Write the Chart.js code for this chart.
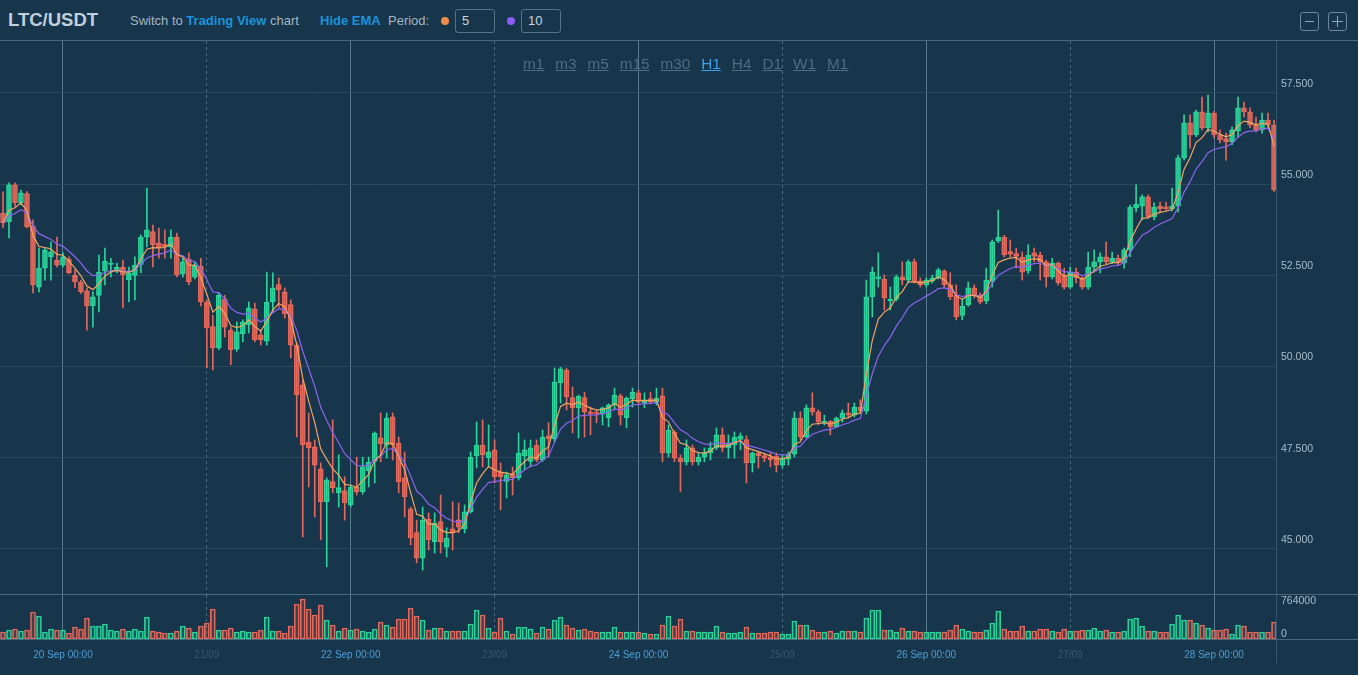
<!DOCTYPE html>
<html>
<head>
<meta charset="utf-8">
<script src="https://cdn.jsdelivr.net/npm/chart.js@4.4.1/dist/chart.umd.min.js"></script>
<style>
  body { margin: 0; background: #17354b; font-family: "Liberation Sans", Arial, sans-serif; }
  #wrap { position: relative; width: 1358px; height: 675px; overflow: hidden; background: #17354b; }
  .abs { position: absolute; }
  .hl { position: absolute; left: 0; width: 1358px; height: 1px; background: #46677c; }
  #title { left: 8px; top: 9px; font-size: 18.5px; font-weight: bold; color: #bfd0dc; }
  .txt { font-size: 13px; color: #a3b5c3; top: 13px; }
  .lnk { color: #1b93dc; font-weight: bold; }
  .dot { width: 8px; height: 8px; border-radius: 50%; top: 17px; }
  .box { top: 9px; width: 38px; height: 22px; border: 1px solid #56758a; border-radius: 3px;
         font-size: 13px; color: #c9d5de; line-height: 22px; padding-left: 6px; box-sizing: content-box; }
  .zbtn { top: 12px; width: 17px; height: 17px; border: 1px solid #6c8799; border-radius: 3px; }
  .zbtn i { position: absolute; background: #8fa6b6; }
  #tf { left: 523px; top: 55px; font-size: 15.3px; color: #4d6d84; white-space: nowrap; }
  #tf span { text-decoration: underline; margin-right: 11px; }
  #tf span.on { color: #3ba2e6; }
</style>
</head>
<body>
<div id="wrap">
  <div id="title" class="abs">LTC/USDT</div>
  <div class="abs txt" style="left:130px">Switch to <span class="lnk">Trading View</span> chart</div>
  <div class="abs txt lnk" style="left:320px">Hide EMA</div>
  <div class="abs txt" style="left:388px">Period:</div>
  <div class="abs dot" style="left:441px;background:#f08c4c"></div>
  <div class="abs box" style="left:455px;width:32px">5</div>
  <div class="abs dot" style="left:507px;background:#8b5cf6"></div>
  <div class="abs box" style="left:521px;width:32px">10</div>
  <div class="abs zbtn" style="left:1300px"><i style="left:4px;top:8px;width:9px;height:1px"></i></div>
  <div class="abs zbtn" style="left:1328px"><i style="left:3px;top:8px;width:11px;height:1px"></i><i style="left:8px;top:3px;width:1px;height:11px"></i></div>
  <div class="hl" style="top:40px"></div>

  <canvas id="price" class="abs" width="1358" height="553" style="left:0;top:41px"></canvas>
  <div class="hl" style="top:594px"></div>
  <canvas id="volume" class="abs" width="1358" height="80" style="left:0;top:595px"></canvas>
  <div class="hl" style="top:639px"></div>
  <div class="abs" style="left:1276px;top:41px;width:1px;height:622px;background:#36566b"></div>

  <div id="tf" class="abs"><span>m1</span><span>m3</span><span>m5</span><span>m15</span><span>m30</span><span class="on">H1</span><span>H4</span><span>D1</span><span>W1</span><span>M1</span></div>
</div>

<script>
// hourly candles, 19 Sep 14:00 .. 28 Sep 10:00
const firstHourUTC = Date.UTC(2021, 8, 19, 14);
const firstMidnight = 10; // index of 20 Sep 00:00
const dayLabels = ['20 Sep 00:00', '21/09', '22 Sep 00:00', '23/09', '24 Sep 00:00',
                   '25/09', '26 Sep 00:00', '27/09', '28 Sep 00:00'];
const priceTicks = [45, 47.5, 50, 52.5, 55, 57.5];
const volumeTicks = [0, 764000];

const opens = [
  54.21, 53.97, 54.98, 54.49, 54.74, 53.86, 52.18, 52.70, 53.01, 52.92,
  52.78, 52.95, 52.50, 52.32, 52.08, 51.66, 51.95, 52.62, 52.80, 52.65,
  52.72, 52.38, 52.50, 52.80, 53.55, 53.70, 53.39, 53.35, 53.28, 53.55,
  52.55, 52.95, 52.45, 52.75, 51.77, 51.10, 50.51, 51.85, 51.00, 50.48,
  50.90, 51.15, 51.58, 50.87, 50.70, 51.77, 52.25, 52.05, 51.70, 50.59,
  49.50, 47.93, 47.80, 47.20, 46.29, 46.85, 46.54, 46.60, 46.21, 46.70,
  46.57, 47.15, 47.40, 48.05, 47.85, 48.62, 47.90, 46.95, 46.10, 45.45,
  44.75, 45.82, 45.20, 45.75, 45.05, 45.55, 45.80, 45.55, 46.02, 47.55,
  47.85, 47.50, 47.72, 47.10, 46.85, 47.05, 46.95, 47.55, 47.40, 47.85,
  47.44, 48.10, 48.02, 49.55, 49.90, 49.15, 48.87, 49.15, 48.76, 48.75,
  48.70, 48.60, 48.95, 49.20, 48.60, 49.12, 49.28, 49.00, 49.12, 49.03,
  49.20, 47.63, 48.20, 47.49, 47.39, 47.77, 47.39, 47.52, 47.63, 47.77,
  48.13, 47.77, 47.85, 48.00, 48.00, 47.36, 47.63, 47.56, 47.52, 47.55,
  47.30, 47.46, 47.60, 48.59, 48.07, 48.87, 48.76, 48.46, 48.50, 48.35,
  48.59, 48.73, 48.67, 48.89, 48.78, 51.91, 52.40, 52.40, 51.80, 51.85,
  52.46, 52.37, 52.87, 52.35, 52.24, 52.35, 52.43, 52.62, 52.24, 51.95,
  51.40, 51.70, 52.16, 51.96, 51.80, 52.35, 53.45, 53.55, 53.15, 53.10,
  53.00, 52.62, 53.12, 53.05, 52.87, 52.46, 52.84, 52.50, 52.18, 52.59,
  52.43, 52.18, 52.73, 52.87, 53.01, 52.87, 52.97, 52.84, 53.20, 54.35,
  54.40, 54.65, 54.10, 54.40, 54.38, 54.32, 54.40, 55.72, 56.68, 56.35,
  56.98, 56.54, 56.95, 56.35, 56.25, 56.16, 56.45, 57.09, 56.98, 56.62,
  56.49, 56.76, 56.62
];
const highs = [
  54.79, 55.04, 55.04, 54.84, 54.80, 54.02, 53.25, 53.25, 53.42, 53.55,
  53.12, 53.01, 52.65, 52.37, 52.16, 52.05, 53.06, 53.25, 52.97, 52.84,
  52.92, 52.73, 53.01, 53.61, 54.89, 53.88, 53.80, 53.75, 53.75, 53.66,
  52.97, 53.12, 52.87, 52.97, 51.83, 51.41, 52.02, 51.95, 51.08, 51.22,
  51.28, 51.77, 51.74, 51.00, 52.59, 52.57, 52.43, 52.16, 51.83, 50.65,
  49.63, 48.73, 47.99, 47.36, 46.95, 48.54, 47.58, 46.98, 46.76, 47.52,
  47.52, 47.52, 48.21, 48.73, 48.73, 48.73, 48.07, 47.66, 46.15, 45.79,
  46.15, 45.99, 45.99, 46.48, 45.58, 46.29, 46.26, 46.21, 47.66, 48.48,
  48.54, 48.40, 47.99, 47.36, 47.11, 47.25, 48.18, 47.99, 47.99, 47.99,
  48.26, 48.46, 49.96, 49.98, 49.95, 49.44, 49.22, 49.30, 48.89, 48.81,
  48.89, 48.98, 49.41, 49.25, 49.17, 49.41, 49.35, 49.28, 49.30, 49.41,
  49.41, 48.40, 48.25, 47.58, 47.99, 47.85, 47.63, 47.77, 47.93, 48.32,
  48.32, 48.13, 48.21, 48.18, 48.10, 47.66, 47.68, 47.63, 47.63, 47.63,
  47.58, 47.66, 48.76, 48.76, 48.95, 49.28, 48.81, 48.67, 48.52, 48.62,
  48.81, 49.00, 49.00, 49.09, 52.37, 52.73, 53.12, 52.51, 52.18, 52.51,
  52.87, 52.92, 52.95, 52.43, 52.43, 52.51, 52.70, 52.66, 52.57, 52.24,
  51.83, 52.32, 52.24, 52.02, 52.70, 53.47, 54.29, 53.60, 53.47, 53.25,
  53.14, 53.34, 53.25, 53.14, 52.92, 52.97, 52.87, 52.70, 52.73, 52.70,
  52.46, 53.14, 53.20, 53.12, 53.42, 53.14, 53.06, 53.25, 54.43, 54.98,
  54.71, 54.71, 54.49, 54.51, 54.51, 54.89, 55.80, 56.90, 56.90, 57.03,
  57.39, 57.44, 57.00, 56.49, 56.40, 56.57, 57.39, 57.25, 57.09, 56.84,
  56.95, 56.95, 56.76
];
const lows = [
  53.80, 53.53, 54.40, 54.43, 53.80, 52.02, 52.05, 52.37, 52.37, 52.73,
  52.73, 52.55, 52.16, 52.00, 51.00, 51.08, 51.50, 52.24, 52.46, 52.57,
  51.61, 51.77, 51.83, 52.57, 53.28, 52.73, 52.97, 52.97, 52.97, 52.46,
  52.45, 52.24, 52.40, 51.66, 49.96, 49.91, 50.46, 50.81, 50.05, 50.42,
  50.68, 50.92, 50.68, 50.59, 50.59, 51.50, 51.63, 51.33, 50.24, 48.07,
  45.33, 46.70, 45.88, 45.25, 44.51, 46.54, 46.15, 45.79, 46.15, 46.48,
  46.50, 46.70, 46.81, 47.39, 47.49, 47.44, 46.54, 45.88, 45.11, 44.62,
  44.42, 44.97, 44.89, 44.89, 44.78, 44.97, 45.44, 45.44, 45.99, 47.22,
  47.25, 47.25, 46.81, 46.07, 46.40, 46.48, 46.89, 47.17, 47.25, 47.39,
  47.40, 47.52, 47.95, 49.00, 48.81, 48.18, 48.04, 48.07, 48.13, 48.46,
  48.40, 48.35, 48.81, 48.40, 48.32, 48.89, 48.95, 48.87, 48.98, 48.95,
  47.39, 47.52, 47.39, 46.57, 47.30, 47.30, 47.30, 47.39, 47.44, 47.72,
  47.66, 47.49, 47.49, 47.72, 46.81, 47.11, 47.22, 47.39, 47.25, 47.11,
  47.22, 47.30, 47.52, 47.99, 48.05, 48.67, 48.40, 48.40, 48.13, 48.33,
  48.48, 48.59, 48.62, 48.73, 48.70, 51.36, 52.18, 51.55, 51.55, 51.80,
  52.24, 52.29, 52.29, 52.18, 52.18, 52.29, 52.40, 52.16, 51.83, 51.28,
  51.28, 51.65, 51.88, 51.72, 51.72, 52.18, 53.40, 53.01, 53.01, 52.70,
  52.37, 52.55, 52.87, 52.37, 52.18, 52.40, 52.24, 52.12, 52.14, 52.29,
  52.12, 52.12, 52.59, 52.57, 52.82, 52.82, 52.78, 52.70, 53.01, 54.24,
  54.02, 54.07, 54.02, 54.24, 54.27, 54.27, 54.24, 55.66, 55.99, 56.30,
  56.49, 56.43, 56.27, 56.13, 55.66, 56.08, 56.29, 56.84, 56.54, 56.43,
  56.40, 56.54, 54.80
];
const closes = [
  53.94, 54.98, 54.49, 54.76, 53.83, 52.24, 52.70, 53.20, 53.14, 52.78,
  53.01, 52.57, 52.32, 52.05, 51.66, 51.91, 52.59, 52.89, 52.84, 52.72,
  52.51, 52.57, 52.78, 53.55, 53.75, 53.34, 53.25, 53.28, 53.55, 52.51,
  52.87, 52.32, 52.78, 51.77, 51.06, 50.51, 51.96, 51.08, 50.46, 50.95,
  51.22, 51.61, 50.73, 50.73, 51.77, 52.16, 52.10, 51.45, 50.59, 49.22,
  47.85, 47.77, 47.30, 46.29, 46.89, 46.68, 46.68, 46.26, 46.70, 46.57,
  47.25, 47.38, 48.18, 47.88, 48.59, 47.85, 46.84, 46.43, 45.30, 44.75,
  45.79, 45.25, 45.71, 45.19, 45.30, 45.44, 45.60, 46.02, 47.52, 47.85,
  47.58, 47.66, 46.98, 46.98, 47.03, 46.95, 47.63, 47.72, 47.77, 47.44,
  48.07, 48.02, 49.58, 49.94, 49.17, 48.87, 49.19, 48.76, 48.70, 48.70,
  48.87, 48.95, 49.22, 48.67, 49.14, 49.30, 49.03, 49.09, 49.03, 49.14,
  47.63, 48.26, 47.49, 47.39, 47.77, 47.39, 47.52, 47.63, 47.77, 48.13,
  47.77, 47.90, 48.07, 48.10, 47.36, 47.63, 47.56, 47.49, 47.44, 47.30,
  47.49, 47.58, 48.59, 48.07, 48.87, 48.76, 48.48, 48.50, 48.35, 48.59,
  48.73, 48.67, 48.89, 48.78, 51.91, 52.59, 52.46, 51.88, 51.85, 52.46,
  52.37, 52.87, 52.32, 52.24, 52.37, 52.43, 52.65, 52.24, 51.91, 51.36,
  51.66, 52.16, 51.96, 51.77, 52.37, 53.42, 53.55, 53.06, 53.08, 53.02,
  52.59, 53.06, 53.02, 52.87, 52.46, 52.84, 52.29, 52.18, 52.59, 52.43,
  52.18, 52.73, 52.87, 53.01, 52.87, 52.97, 52.84, 53.20, 54.37, 54.45,
  54.65, 54.10, 54.37, 54.33, 54.32, 54.40, 55.72, 56.68, 56.35, 56.98,
  56.54, 56.95, 56.35, 56.21, 56.16, 56.49, 57.09, 56.98, 56.62, 56.49,
  56.76, 56.62, 54.84
];
const volumes = [
  162000, 208000, 231000, 185000, 208000, 625000, 532000, 162000, 231000, 208000,
  208000, 139000, 278000, 231000, 486000, 301000, 301000, 347000, 208000, 185000,
  231000, 185000, 231000, 185000, 509000, 185000, 162000, 139000, 139000, 185000,
  301000, 255000, 162000, 301000, 370000, 695000, 208000, 208000, 255000, 162000,
  185000, 162000, 162000, 208000, 509000, 185000, 185000, 139000, 301000, 810000,
  926000, 695000, 556000, 787000, 440000, 324000, 185000, 255000, 208000, 231000,
  185000, 162000, 231000, 394000, 324000, 278000, 463000, 463000, 718000, 532000,
  440000, 208000, 255000, 255000, 185000, 185000, 185000, 185000, 347000, 671000,
  556000, 255000, 162000, 486000, 185000, 116000, 278000, 278000, 231000, 139000,
  278000, 231000, 440000, 509000, 324000, 255000, 208000, 231000, 185000, 162000,
  162000, 162000, 278000, 162000, 162000, 162000, 162000, 139000, 116000, 116000,
  324000, 532000, 301000, 463000, 185000, 185000, 162000, 162000, 162000, 301000,
  162000, 139000, 139000, 162000, 278000, 139000, 139000, 139000, 162000, 162000,
  116000, 116000, 417000, 324000, 324000, 208000, 162000, 162000, 185000, 139000,
  185000, 185000, 185000, 162000, 486000, 671000, 671000, 208000, 208000, 162000,
  255000, 185000, 185000, 162000, 162000, 162000, 162000, 162000, 208000, 324000,
  231000, 185000, 162000, 162000, 208000, 370000, 648000, 231000, 185000, 185000,
  301000, 185000, 185000, 231000, 231000, 185000, 162000, 231000, 185000, 185000,
  208000, 208000, 255000, 185000, 208000, 162000, 162000, 185000, 463000, 486000,
  301000, 185000, 185000, 162000, 162000, 347000, 556000, 440000, 440000, 370000,
  324000, 255000, 208000, 208000, 231000, 116000, 324000, 301000, 162000, 162000,
  162000, 162000, 394000
];

const hours = opens.map((_, i) => new Date(firstHourUTC + i * 3600000).toISOString().slice(0, 13));

const GREEN = '#2ad49a', RED = '#e3695c';
const up = closes.map((c, i) => c >= opens[i]);
const tickFont = { size: 10.5, family: '"Liberation Sans", Arial, sans-serif' };

function ema(src, n) {
  const k = 2 / (n + 1);
  let prev = src[0];
  return src.map((v, i) => (prev = i === 0 ? v : v * k + prev * (1 - k)));
}

function dayOf(i) {
  const d = i - firstMidnight;
  return d >= 0 && d % 24 === 0 ? d / 24 : -1;
}

function xAxis(showLabels) {
  return {
    type: 'category',
    offset: true,
    afterFit: s => {
      s.height = showLabels ? 36 : 0;
      s.paddingLeft = 0;
      s.paddingRight = 0;
    },
    grid: {
      offset: false,
      drawTicks: false,
      color: c => {
        const d = dayOf(c.index);
        if (d < 0) return 'rgba(0,0,0,0)';
        return d % 2 ? '#4b6b80' : '#587a8f';
      }
    },
    border: { display: false, dash: c => (dayOf(c.index) % 2 === 1 ? [3, 3] : []) },
    ticks: {
      display: showLabels,
      autoSkip: false,
      maxRotation: 0,
      padding: 10,
      font: { size: 10, family: '"Liberation Sans", Arial, sans-serif' },
      color: c => (dayOf(c.index) % 2 === 1 ? '#3f586b' : '#4f9fd6'),
      callback: (v, i) => { const d = dayOf(i); return d < 0 ? '' : dayLabels[d]; }
    }
  };
}

const common = {
  responsive: false,
  animation: false,
  events: [],
  layout: { padding: 0 },
  plugins: { legend: { display: false }, tooltip: { enabled: false } }
};

new Chart(document.getElementById('price'), {
  type: 'bar',
  data: {
    labels: hours,
    datasets: [
      { label: 'EMA 5', type: 'line', data: ema(closes, 5), borderColor: '#f2a562', borderWidth: 1.2,
        pointRadius: 0, tension: 0, order: 0 },
      { label: 'EMA 10', type: 'line', data: ema(closes, 10), borderColor: '#8e64f0', borderWidth: 1.2,
        pointRadius: 0, tension: 0, order: 1 },
      { label: 'body', data: opens.map((o, i) => [o, closes[i]]), grouped: false, order: 2,
        backgroundColor: up.map(u => (u ? 'rgba(42,212,154,0.55)' : 'rgba(227,105,92,0.55)')),
        borderColor: up.map(u => (u ? GREEN : RED)), borderWidth: 1, borderSkipped: false, barThickness: 5 },
      { label: 'wick', data: lows.map((l, i) => [l, highs[i]]), grouped: false, order: 3,
        backgroundColor: up.map(u => (u ? GREEN : RED)), barThickness: 1 }
    ]
  },
  options: {
    ...common,
    scales: {
      x: xAxis(false),
      y: {
        position: 'right',
        min: 43.766,
        max: 58.925,
        afterBuildTicks: s => { s.ticks = priceTicks.map(v => ({ value: v })); },
        afterFit: s => { s.width = 81; s.paddingTop = 0; s.paddingBottom = 0; },
        grid: { color: '#2a4a5f', drawTicks: false },
        border: { display: false },
        ticks: {
          color: '#a9bccb', padding: 4, labelOffset: -9, font: tickFont,
          callback: v => v.toFixed(3)
        }
      }
    }
  }
});

new Chart(document.getElementById('volume'), {
  type: 'bar',
  data: {
    labels: hours,
    datasets: [
      { label: 'volume', data: volumes,
        backgroundColor: up.map(u => (u ? 'rgba(42,212,154,0.2)' : 'rgba(227,105,92,0.2)')),
        borderColor: up.map(u => (u ? GREEN : RED)), borderWidth: 1, borderSkipped: false, barThickness: 5 }
    ]
  },
  options: {
    ...common,
    scales: {
      x: xAxis(true),
      y: {
        position: 'right',
        min: 0,
        max: 1018000,
        afterBuildTicks: s => { s.ticks = volumeTicks.map(v => ({ value: v })); },
        afterFit: s => { s.width = 81; s.paddingTop = 0; s.paddingBottom = 0; },
        grid: { display: false, drawTicks: false },
        border: { display: false },
        ticks: {
          color: '#a9bccb', padding: 4, labelOffset: -5, font: tickFont,
          callback: v => String(v)
        }
      }
    }
  }
});
</script>
</body>
</html>
